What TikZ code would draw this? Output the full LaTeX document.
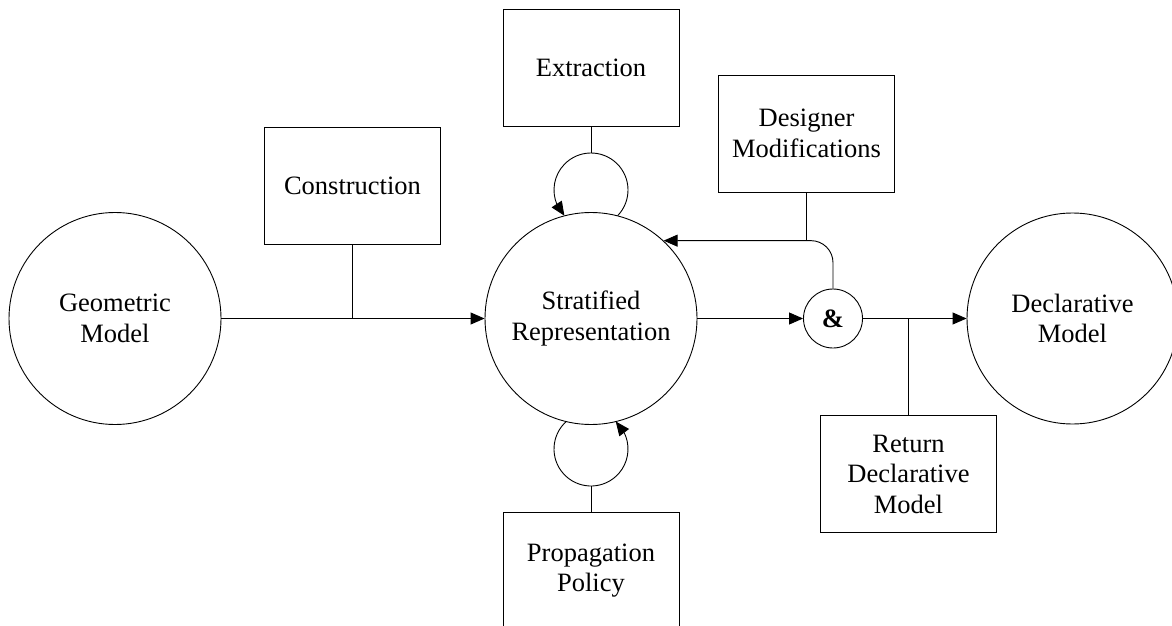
\documentclass[tikz,border=0pt]{standalone}
\usepackage{fontspec}
\setmainfont{Liberation Serif}
\usetikzlibrary{arrows.meta,bending}
\begin{document}
\begin{tikzpicture}[x=1pt,y=1pt,
  line width=0.9pt,
  every node/.style={font=\fontsize{26.5}{30.5}\selectfont, align=center},
  bigcirc/.style={draw, circle, minimum size=212pt, inner sep=0pt},
  procbox/.style={draw, rectangle, minimum width=176pt, minimum height=117pt, inner sep=0pt},
  arr/.style={-{Triangle[length=14pt,width=12pt,flex]}}
]
\useasboundingbox (0,0) rectangle (1172,625);

% main states
\node[bigcirc] (geo)   at (115,306.5)    {Geometric\\Model};
\node[bigcirc] (strat) at (591,306.5)    {Stratified\\Representation};
\node[bigcirc, minimum size=211pt] (decl) at (1072.5,306.5) {Declarative\\Model};
\node[draw, circle, minimum size=59pt, inner sep=0pt, font=\fontsize{26.5}{30.5}\selectfont\bfseries] (amp) at (833,306.5) {\&};

% operations
\node[procbox] (con)  at (352.5,439)   {Construction};
\node[procbox] (ext)  at (591,557.5)   {Extraction};
\node[procbox] (des)  at (806.5,491.5) {Designer\\Modifications};
\node[procbox] (prop) at (591,54.5)    {Propagation\\Policy};
\node[procbox] (ret)  at (908.5,151)   {Return\\Declarative\\Model};

% self loops on the stratified representation
\coordinate (eloop) at (591,435);
\coordinate (ploop) at (591,176);

% flow along the main line
\draw[arr] (geo.east) -- (strat.west);
\draw (con.south) -- (con.south |- geo.east);
\draw[arr] (strat.east) -- (amp.west);
\draw[arr] (amp.east) -- (decl.west);
\draw (ret.north) -- (ret.north |- decl.west);

% feedback from the merge back into the representation
\draw[arr, rounded corners=22pt] (amp.north) |- (strat.47);
\draw (des.south) -- (des.south |- strat.47);

% extraction loop
\draw (ext.south) -- ([yshift=37pt]eloop);
\draw[arr] (eloop) ++(-44:37) arc[start angle=-44, end angle=224, radius=37];

% propagation loop
\draw (prop.north) -- ([yshift=-37pt]ploop);
\draw[arr] (ploop) ++(132:37) arc[start angle=132, end angle=408, radius=37];
\end{tikzpicture}
\end{document}
